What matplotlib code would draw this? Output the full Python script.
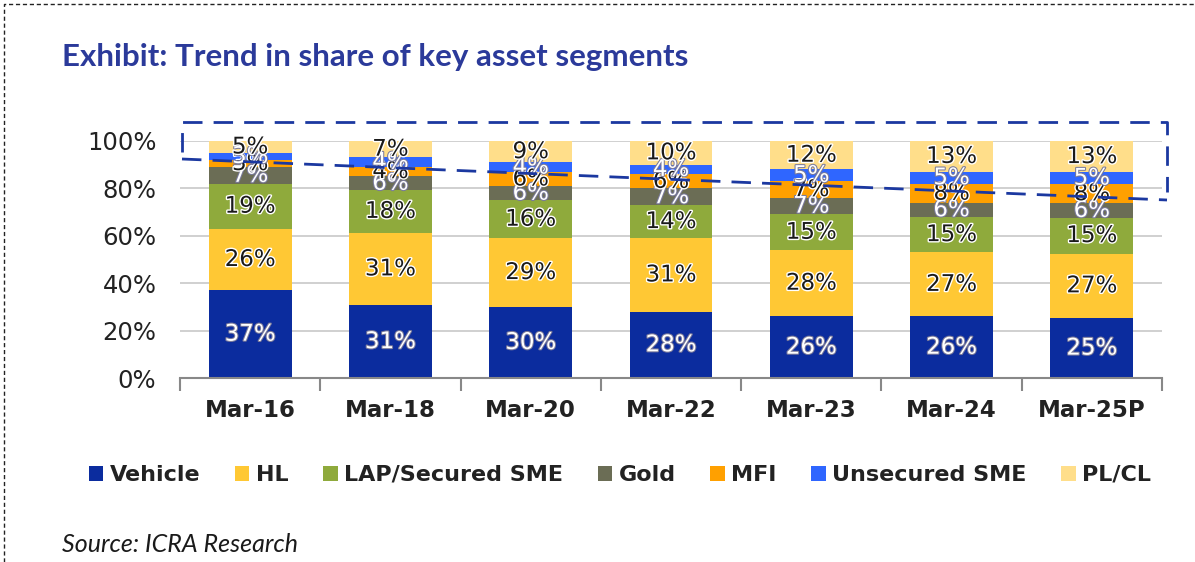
import numpy as np
import matplotlib.pyplot as plt
import matplotlib.patheffects as pe
from matplotlib.lines import Line2D
from matplotlib.patches import Patch

# data (percent share of each segment)
periods = ["Mar-16", "Mar-18", "Mar-20", "Mar-22", "Mar-23", "Mar-24", "Mar-25P"]
segments = ["Vehicle", "HL", "LAP/Secured SME", "Gold", "MFI", "Unsecured SME", "PL/CL"]
vehicle = [37, 31, 30, 28, 26, 26, 25]
hl = [26, 31, 29, 31, 28, 27, 27]
lap = [19, 18, 16, 14, 15, 15, 15]
gold = [7, 6, 6, 7, 7, 6, 6]
mfi = [3, 4, 6, 6, 7, 8, 8]
unsecured = [3, 4, 4, 4, 5, 5, 5]
plcl = [5, 7, 9, 10, 12, 13, 13]

colors = ["#0B2C9E", "#FFC834", "#8FAA3C", "#6B6D55", "#FFA000", "#2F66FF", "#FFDE8A"]
text_colors = ["white", "#1a1a1a", "#1a1a1a", "white", "#1a1a1a", "white", "#1a1a1a"]

W, H = 1195, 562


def fx(px):
    return px / W


def fy(py):
    return 1 - py / H


def main():
    series = np.array([vehicle, hl, lap, gold, mfi, unsecured, plcl], dtype=float)
    # 100% stacked, like the Excel original
    shares = series / series.sum(axis=0) * 100

    fig = plt.figure(figsize=(W / 100, H / 100), dpi=100)
    ax = fig.add_axes([fx(180), fy(378), fx(1162) - fx(180), fy(141) - fy(378)])

    x = np.arange(len(periods))
    bottom = np.zeros(len(periods))
    for k, name in enumerate(segments):
        ax.bar(x, shares[k], 0.59, bottom=bottom, color=colors[k], label=name, zorder=3)
        for i in range(len(periods)):
            yc = bottom[i] + shares[k][i] / 2
            if text_colors[k] == "white":
                eff = [pe.withStroke(linewidth=1.5, foreground="#7a7a9a")]
            else:
                eff = [pe.withStroke(linewidth=2, foreground="white")]
            ax.text(x[i], yc, f"{int(series[k][i])}%", ha="center", va="center",
                    fontsize=16.5, color=text_colors[k], zorder=5, path_effects=eff)
        bottom += shares[k]

    ax.set_xlim(-0.5, len(periods) - 0.5)
    ax.set_ylim(0, 100)
    ax.set_yticks(np.arange(0, 101, 20), labels=[f"{v}%" for v in range(0, 101, 20)])
    ax.set_xticks(x, labels=periods, fontweight="bold")
    ax.set_xticks(np.arange(-0.5, len(periods), 1), minor=True)
    ax.tick_params(axis="x", which="major", length=0, pad=15, labelsize=16.5, labelcolor="#222222")
    ax.tick_params(axis="x", which="minor", length=9, width=1.5, color="#888888")
    ax.tick_params(axis="y", length=0, pad=17, labelsize=17.5, labelcolor="#222222")
    ax.grid(axis="y", color="#c8c8c8", linewidth=1.2, zorder=0)
    for s in ["top", "right", "left"]:
        ax.spines[s].set_visible(False)
    ax.spines["bottom"].set_color("#888888")
    ax.spines["bottom"].set_linewidth(1.5)
    ax.spines["bottom"].set_zorder(4)

    # highlight box (dashed, dark blue)
    box_kw = dict(color="#1B38A0", linewidth=2.0, linestyle=(0, (7, 4)), transform=fig.transFigure)
    fig.add_artist(Line2D([fx(182), fx(182), fx(1167), fx(1167)],
                          [fy(152), fy(122), fy(122), fy(192)], **box_kw))
    fig.add_artist(Line2D([fx(182), fx(1167)], [fy(159), fy(200)], **box_kw))

    # outer dashed frame
    frame_kw = dict(color="#222222", linewidth=1, linestyle=(0, (3, 2)), transform=fig.transFigure)
    fig.add_artist(Line2D([fx(4), fx(4), fx(1195)], [fy(562), fy(4), fy(4)], **frame_kw))

    fig.text(fx(62), fy(57), "Exhibit: Trend in share of key asset segments", fontsize=22.5,
             fontweight="bold", color="#2B3A9A", va="center", ha="left", family="Lato")

    handles = [Patch(facecolor=c, edgecolor="none") for c in colors]
    fig.legend(handles, segments, loc="center", bbox_to_anchor=(fx(620), fy(475)), ncol=7,
               frameon=False, prop={"size": 16, "weight": "bold"}, handlelength=0.65,
               handleheight=0.65, handletextpad=0.3, columnspacing=1.55, labelcolor="#222222")

    fig.text(fx(62), fy(545), "Source: ICRA Research", fontsize=18, style="italic",
             color="#1a1a1a", va="center", ha="left", family="Lato")

    fig.savefig("out.png", dpi=100)


if __name__ == "__main__":
    main()
